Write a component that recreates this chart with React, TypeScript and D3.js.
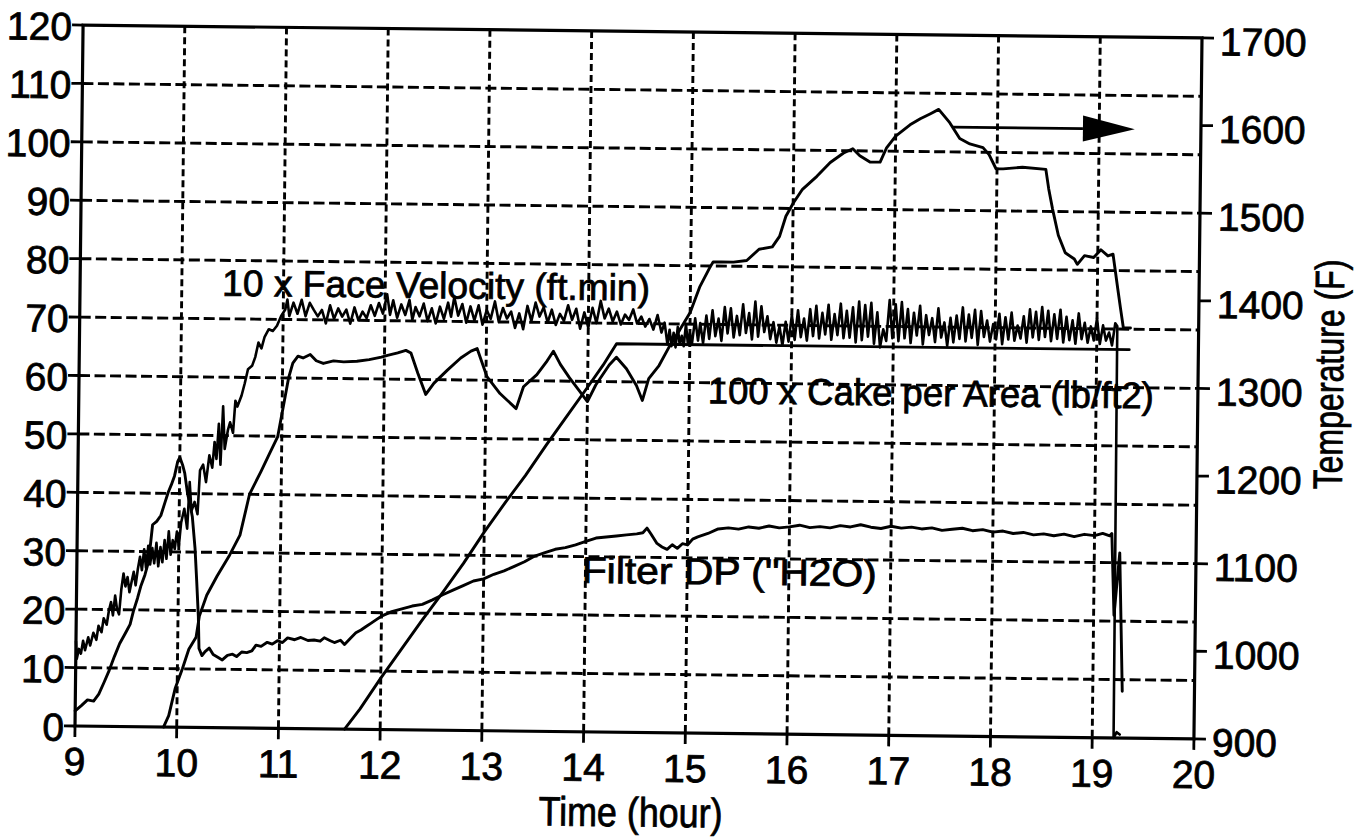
import React from 'react';
import * as d3 from 'd3';

// ---------- data ----------
const xTickValues = [9, 10, 11, 12, 13, 14, 15, 16, 17, 18, 19, 20];
const leftTickValues = [0, 10, 20, 30, 40, 50, 60, 70, 80, 90, 100, 110, 120];
const rightTickValues = [900, 1000, 1100, 1200, 1300, 1400, 1500, 1600, 1700];

const xAxisTitle = 'Time (hour)';
const rightAxisTitle = 'Temperature (F)';
const velocityLabel = '10 x Face Velocity (ft.min)';
const cakeLabel = '100 x Cake per Area (lb/ft2)';
const filterLabel = 'Filter DP ("H2O)';

// 10 x Face Velocity (left axis)
const faceVelocity: [number, number][] = [
  [9.0, 14.5], [9.01, 11.5], [9.03, 13.2], [9.05, 12.4], [9.07, 14.6], [9.09, 13.0], [9.12, 15.2], [9.14, 13.8],
  [9.17, 16.0], [9.2, 14.8], [9.22, 17.2], [9.25, 16.1], [9.27, 18.5], [9.3, 17.4], [9.32, 19.8], [9.34, 21.3],
  [9.36, 19.0], [9.38, 22.4], [9.4, 20.1], [9.42, 19.2], [9.44, 23.5], [9.46, 26.2], [9.48, 24.0], [9.5, 25.6],
  [9.52, 23.0], [9.54, 24.8], [9.56, 26.5], [9.58, 24.2], [9.6, 27.0], [9.62, 29.1], [9.64, 26.8], [9.66, 30.4],
  [9.68, 27.2], [9.7, 31.0], [9.72, 27.8], [9.74, 30.6], [9.76, 28.0], [9.78, 31.5], [9.8, 27.5], [9.82, 30.8],
  [9.84, 28.2], [9.86, 32.0], [9.88, 28.8], [9.9, 33.5], [9.92, 29.5], [9.94, 32.0], [9.96, 30.5], [9.98, 33.5],
  [10.0, 31.0], [10.02, 35.0], [10.05, 37.4], [10.08, 34.0], [10.1, 42.0], [10.12, 37.0], [10.15, 38.6], [10.18, 36.5],
  [10.2, 44.0], [10.23, 45.0], [10.26, 42.0], [10.29, 46.6], [10.32, 44.5], [10.34, 48.9], [10.36, 46.0], [10.38, 52.0],
  [10.4, 45.0], [10.42, 55.0], [10.44, 47.7], [10.47, 51.0], [10.49, 52.3], [10.52, 50.5], [10.54, 56.0], [10.56, 55.0],
  [10.6, 56.9], [10.63, 59.0], [10.66, 61.4], [10.7, 62.0], [10.73, 63.5], [10.76, 66.0], [10.79, 65.0], [10.82, 67.0],
  [10.86, 68.3], [10.9, 68.0], [10.94, 68.9], [10.98, 70.6], [11.02, 71.7], [11.04, 73.4], [11.06, 70.6], [11.1, 72.9],
  [11.14, 71.0], [11.18, 73.4], [11.22, 70.6], [11.26, 72.9], [11.3, 71.7], [11.34, 70.6], [11.38, 71.7], [11.42, 69.4],
  [11.46, 72.5], [11.5, 70.2], [11.54, 72.0], [11.58, 70.6], [11.62, 71.8], [11.66, 69.4], [11.7, 72.2], [11.74, 70.0],
  [11.78, 71.5], [11.82, 70.4], [11.86, 72.6], [11.9, 70.8], [11.94, 73.0], [11.98, 71.2], [12.02, 74.5], [12.05, 71.0],
  [12.08, 73.5], [12.12, 70.5], [12.16, 72.8], [12.2, 71.0], [12.24, 73.6], [12.27, 70.2], [12.3, 72.4], [12.34, 70.8],
  [12.38, 73.0], [12.42, 70.0], [12.46, 72.2], [12.5, 69.6], [12.54, 72.5], [12.58, 70.4], [12.62, 73.2], [12.65, 70.8],
  [12.68, 74.2], [12.72, 71.0], [12.76, 73.0], [12.8, 69.8], [12.84, 72.6], [12.88, 70.2], [12.92, 72.8], [12.96, 69.5],
  [13.0, 72.0], [13.04, 70.5], [13.08, 73.5], [13.12, 70.0], [13.16, 72.4], [13.2, 70.6], [13.24, 71.8], [13.28, 69.0],
  [13.32, 71.5], [13.36, 68.8], [13.4, 72.8], [13.44, 70.2], [13.48, 73.4], [13.52, 71.0], [13.56, 72.6], [13.6, 70.0],
  [13.64, 72.2], [13.68, 69.6], [13.72, 71.5], [13.76, 70.3], [13.8, 73.0], [13.84, 70.5], [13.88, 72.4], [13.92, 69.0],
  [13.96, 71.8], [14.0, 69.2], [14.04, 72.6], [14.08, 70.0], [14.12, 73.8], [14.16, 70.8], [14.2, 72.5], [14.24, 70.3],
  [14.28, 72.0], [14.32, 69.8], [14.36, 71.5], [14.4, 70.6], [14.44, 72.4], [14.48, 70.0], [14.52, 71.2], [14.56, 69.5],
  [14.6, 70.8], [14.64, 69.0], [14.68, 71.5], [14.72, 68.5], [14.75, 70.2], [14.78, 66.5], [14.8, 69.0], [14.82, 66.2],
  [14.84, 68.5], [14.86, 66.0], [14.88, 69.5], [14.9, 66.5], [14.92, 68.0], [14.94, 66.2], [14.96, 70.0], [14.98, 66.8],
  [15.0, 68.5], [15.02, 66.5], [15.05, 71.0], [15.08, 67.2], [15.1, 70.2], [15.13, 66.8], [15.16, 71.5], [15.19, 67.5],
  [15.22, 72.4], [15.25, 68.0], [15.28, 71.0], [15.31, 67.2], [15.34, 73.0], [15.37, 68.5], [15.4, 72.8], [15.43, 67.8],
  [15.46, 71.5], [15.49, 68.2], [15.52, 73.5], [15.55, 68.6], [15.58, 72.0], [15.61, 67.5], [15.64, 74.0], [15.67, 68.0],
  [15.7, 73.2], [15.73, 68.8], [15.76, 71.5], [15.79, 67.6], [15.82, 70.5], [15.85, 67.0], [15.88, 69.8], [15.91, 66.5],
  [15.94, 70.6], [15.97, 67.2], [16.0, 71.8], [16.03, 67.5], [16.06, 72.6], [16.09, 68.0], [16.12, 71.2], [16.15, 67.4],
  [16.18, 72.8], [16.21, 68.2], [16.24, 73.4], [16.27, 67.8], [16.3, 72.2], [16.33, 68.5], [16.36, 73.6], [16.39, 67.6],
  [16.42, 72.0], [16.45, 68.4], [16.48, 73.8], [16.51, 67.9], [16.54, 72.6], [16.57, 68.0], [16.6, 73.2], [16.63, 67.2],
  [16.66, 74.2], [16.69, 67.6], [16.72, 73.6], [16.75, 68.2], [16.78, 74.0], [16.81, 67.0], [16.84, 72.4], [16.87, 66.4],
  [16.9, 69.5], [16.93, 67.5], [16.96, 74.5], [16.99, 68.0], [17.02, 73.8], [17.05, 67.5], [17.08, 74.2], [17.11, 68.0],
  [17.14, 73.0], [17.17, 67.2], [17.2, 72.4], [17.23, 68.5], [17.26, 73.6], [17.29, 67.0], [17.32, 72.0], [17.35, 68.6],
  [17.38, 71.5], [17.41, 67.4], [17.44, 73.2], [17.47, 68.2], [17.5, 70.8], [17.53, 66.8], [17.56, 71.6], [17.59, 67.4],
  [17.62, 72.0], [17.65, 68.0], [17.68, 73.4], [17.71, 67.6], [17.74, 72.2], [17.77, 68.2], [17.8, 73.0], [17.83, 67.0],
  [17.86, 72.8], [17.89, 68.4], [17.92, 71.2], [17.95, 67.6], [17.98, 70.6], [18.01, 68.0], [18.04, 72.4], [18.07, 67.2],
  [18.1, 71.8], [18.13, 68.0], [18.16, 72.6], [18.19, 67.8], [18.22, 70.4], [18.25, 68.2], [18.28, 72.0], [18.31, 67.5],
  [18.34, 73.2], [18.37, 68.4], [18.4, 72.8], [18.43, 68.0], [18.46, 73.6], [18.49, 68.5], [18.52, 73.0], [18.55, 67.8],
  [18.58, 72.4], [18.61, 68.2], [18.64, 73.2], [18.67, 67.6], [18.7, 72.0], [18.73, 68.0], [18.76, 71.4], [18.79, 67.4],
  [18.82, 72.6], [18.85, 68.2], [18.88, 71.0], [18.91, 67.6], [18.94, 70.4], [18.97, 68.0], [19.0, 71.8], [19.03, 67.4],
  [19.06, 70.6], [19.09, 68.0], [19.12, 69.4], [19.15, 67.2], [19.18, 71.0], [19.2, 70.5], [19.21, 0], [19.24, 1.0],
  [19.27, 0.6],
];

// Filter DP ("H2O) (left axis)
const filterDP: [number, number][] = [
  [9.0, 2.6], [9.06, 3.5], [9.12, 4.5], [9.18, 4.3], [9.23, 5.5], [9.28, 7.5], [9.33, 9.6], [9.38, 12.0],
  [9.43, 14.2], [9.47, 15.5], [9.5, 16.5], [9.53, 17.5], [9.56, 19.7], [9.6, 22.0], [9.63, 24.0], [9.67, 26.0],
  [9.7, 28.0], [9.72, 31.0], [9.74, 34.6], [9.78, 35.2], [9.82, 36.2], [9.86, 38.5], [9.89, 40.2], [9.92, 41.5],
  [9.95, 43.0], [9.98, 45.5], [10.0, 46.2], [10.03, 44.8], [10.05, 43.5], [10.08, 40.0], [10.11, 37.8], [10.13, 36.0],
  [10.16, 30.6], [10.18, 25.0], [10.2, 19.0], [10.21, 13.5], [10.24, 12.3], [10.27, 13.0], [10.31, 13.6], [10.35, 12.5],
  [10.4, 12.0], [10.44, 11.6], [10.49, 12.4], [10.54, 12.6], [10.58, 12.2], [10.63, 13.0], [10.68, 12.9], [10.73, 13.2],
  [10.77, 14.2], [10.82, 14.0], [10.88, 14.7], [10.93, 14.4], [10.98, 15.0], [11.03, 14.7], [11.08, 15.5], [11.15, 15.2],
  [11.21, 15.6], [11.28, 15.1], [11.34, 15.2], [11.4, 15.0], [11.44, 15.6], [11.5, 15.1], [11.54, 14.8], [11.6, 15.2],
  [11.64, 14.5], [11.7, 15.6], [11.75, 16.5], [11.8, 17.0], [11.85, 17.6], [11.9, 18.2], [11.95, 18.8], [12.0, 19.4],
  [12.05, 19.8], [12.1, 20.2], [12.2, 20.7], [12.3, 21.2], [12.4, 21.5], [12.5, 22.3], [12.6, 23.2], [12.7, 24.0],
  [12.8, 24.8], [12.9, 25.6], [13.0, 26.0], [13.1, 26.8], [13.2, 27.4], [13.3, 28.2], [13.4, 29.0], [13.5, 30.0],
  [13.6, 30.6], [13.7, 31.2], [13.8, 31.5], [13.9, 32.0], [14.0, 32.6], [14.1, 33.2], [14.2, 33.4], [14.3, 33.6],
  [14.4, 33.8], [14.5, 34.0], [14.56, 34.2], [14.6, 35.0], [14.64, 34.0], [14.7, 32.4], [14.75, 31.8], [14.8, 31.4],
  [14.85, 32.2], [14.9, 31.6], [14.95, 32.4], [15.0, 32.2], [15.05, 33.2], [15.1, 33.6], [15.2, 34.2], [15.3, 35.0],
  [15.4, 35.2], [15.5, 35.0], [15.6, 35.4], [15.7, 35.2], [15.8, 35.6], [15.9, 35.3], [16.0, 35.5], [16.1, 35.8],
  [16.2, 35.4], [16.3, 35.6], [16.4, 35.4], [16.5, 35.8], [16.6, 35.6], [16.7, 36.0], [16.8, 35.6], [16.9, 35.4],
  [17.0, 35.8], [17.1, 35.5], [17.2, 35.7], [17.3, 35.4], [17.4, 35.6], [17.5, 35.2], [17.6, 35.4], [17.7, 35.6],
  [17.8, 35.2], [17.9, 35.4], [18.0, 35.0], [18.1, 35.2], [18.2, 34.8], [18.3, 35.0], [18.4, 34.6], [18.5, 34.8],
  [18.6, 34.5], [18.7, 34.8], [18.8, 34.4], [18.9, 34.8], [19.0, 34.6], [19.08, 35.0], [19.15, 34.6], [19.17, 35.0],
  [19.2, 21.0], [19.25, 31.7], [19.29, 8.0],
];

// 100 x Cake per Area (left axis)
const cakePerArea: [number, number][] = [
  [11.65, 0], [11.8, 3.5], [12.0, 8.8], [12.2, 13.8], [12.4, 18.8], [12.6, 23.6], [12.8, 28.6], [13.0, 34.0],
  [13.2, 39.0], [13.4, 43.8], [13.6, 49.0], [13.8, 54.0], [14.0, 59.0], [14.15, 62.8], [14.28, 66.5], [19.32, 66.5],
];

// Temperature (F) (right axis)
const temperature: [number, number][] = [
  [9.87, 900], [9.92, 913], [9.98, 944], [10.05, 967], [10.11, 989], [10.18, 1003], [10.21, 1027], [10.28, 1051],
  [10.38, 1073], [10.5, 1097], [10.6, 1120], [10.69, 1167], [10.8, 1193], [10.88, 1213], [10.96, 1233], [11.02, 1273],
  [11.06, 1300], [11.1, 1317], [11.15, 1325], [11.2, 1323], [11.27, 1327], [11.33, 1320], [11.4, 1317], [11.5, 1320],
  [11.6, 1319], [11.73, 1320], [11.85, 1322], [11.97, 1325], [12.03, 1327], [12.13, 1330], [12.21, 1333], [12.26, 1330],
  [12.33, 1307], [12.41, 1283], [12.49, 1296], [12.62, 1311], [12.75, 1325], [12.85, 1333], [12.91, 1336], [13.01, 1304],
  [13.14, 1285], [13.3, 1268], [13.37, 1293], [13.5, 1307], [13.6, 1323], [13.66, 1334], [13.73, 1319], [13.82, 1304],
  [13.92, 1289], [14.0, 1277], [14.08, 1296], [14.21, 1319], [14.28, 1328], [14.38, 1315], [14.48, 1296], [14.54, 1279],
  [14.6, 1304], [14.7, 1319], [14.8, 1341], [14.9, 1360], [15.0, 1380], [15.09, 1409], [15.19, 1432], [15.22, 1438],
  [15.3, 1438], [15.42, 1438], [15.55, 1440], [15.67, 1453], [15.8, 1456], [15.87, 1468], [15.93, 1491], [16.0, 1506],
  [16.09, 1522], [16.23, 1537], [16.36, 1553], [16.49, 1564], [16.58, 1569], [16.65, 1561], [16.75, 1554], [16.85, 1554],
  [16.91, 1570], [17.0, 1584], [17.14, 1597], [17.24, 1604], [17.34, 1610], [17.42, 1615], [17.53, 1600], [17.63, 1582],
  [17.73, 1576], [17.86, 1572], [17.92, 1564], [17.99, 1548], [18.06, 1548], [18.25, 1550], [18.48, 1548], [18.51, 1526],
  [18.55, 1503], [18.61, 1473], [18.68, 1453], [18.77, 1446], [18.8, 1440], [18.87, 1450], [18.96, 1448], [19.03, 1457],
  [19.1, 1450], [19.15, 1452], [19.2, 1413], [19.23, 1390], [19.26, 1368], [19.33, 1368],
];

// arrow pointing to the right-hand axis (temperature units)
const arrowLevel = 1595;
const arrowStart = 17.56;
const arrowHeadBase = 18.84;
const arrowTip = 19.35;

// ---------- component ----------
const FONT = "'Liberation Sans', Arial, Helvetica, sans-serif";

export default function App() {
  const left = 75, right = 1194, top = 25, bottom = 726;
  const x = d3.scaleLinear().domain([9, 20]).range([left, right]);
  const yL = d3.scaleLinear().domain([0, 120]).range([bottom, top]);
  const yR = d3.scaleLinear().domain([900, 1700]).range([bottom, top]);

  const lineL = d3.line<[number, number]>().x(d => x(d[0])).y(d => yL(d[1]));
  const lineR = d3.line<[number, number]>().x(d => x(d[0])).y(d => yR(d[1]));

  const lineStyle = {
    fill: 'none', stroke: '#000', strokeWidth: 2.9,
    strokeLinejoin: 'round' as const, strokeLinecap: 'round' as const,
  };
  const textStyle = { fill: '#000', stroke: '#000', strokeWidth: 0.8 };

  const ay = yR(arrowLevel);
  const head = 13;

  return (
    <svg width={1368} height={838} style={{ position: 'absolute', left: 0, top: 0, background: '#fff' }}
      fontFamily={FONT}>
      <rect x={0} y={0} width={1368} height={838} fill="#fff" />
      <g transform={`rotate(0.66 ${left} ${bottom})`}>
        {/* gridlines */}
        {leftTickValues.filter(v => v > 0 && v < 120).map(v => (
          <line key={'hg' + v} x1={left} x2={right} y1={yL(v)} y2={yL(v)}
            stroke="#000" strokeWidth={2.9} strokeDasharray="11 4.5" />
        ))}
        {xTickValues.filter(v => v > 9 && v < 20).map(v => (
          <line key={'vg' + v} x1={x(v)} x2={x(v)} y1={top} y2={bottom}
            stroke="#000" strokeWidth={2.9} strokeDasharray="7 4" />
        ))}

        {/* data lines */}
        <path d={lineL(filterDP) || ''} {...lineStyle} />
        <path d={lineL(cakePerArea) || ''} {...lineStyle} />
        <path d={lineR(temperature) || ''} {...lineStyle} />
        <path d={lineL(faceVelocity) || ''} {...lineStyle} strokeWidth={2.6} />

        {/* arrow */}
        <line x1={x(arrowStart)} x2={x(arrowHeadBase)} y1={ay} y2={ay} stroke="#000" strokeWidth={2.8} />
        <path d={`M${x(arrowHeadBase)},${ay - head}L${x(arrowTip)},${ay}L${x(arrowHeadBase)},${ay + head}Z`} fill="#000" />

        {/* frame */}
        <rect x={left} y={top} width={right - left} height={bottom - top} fill="none" stroke="#000" strokeWidth={3.2} />

        {/* left axis ticks */}
        {leftTickValues.map(v => (
          <g key={'lt' + v}>
            <line x1={left - 11} x2={left} y1={yL(v)} y2={yL(v)} stroke="#000" strokeWidth={2.8} />
            <text x={left - 11} y={yL(v) + 15} textAnchor="end" fontSize={39} {...textStyle}>{v}</text>
          </g>
        ))}

        {/* right axis ticks */}
        {rightTickValues.map(v => (
          <g key={'rt' + v}>
            <line x1={right} x2={right + 12} y1={yR(v)} y2={yR(v)} stroke="#000" strokeWidth={2.8} />
            <text x={right + 18} y={yR(v) + 17} textAnchor="start" fontSize={39} {...textStyle}>{v}</text>
          </g>
        ))}

        {/* bottom axis ticks */}
        {xTickValues.map(v => (
          <g key={'xt' + v}>
            <line x1={x(v)} x2={x(v)} y1={bottom} y2={bottom + 11} stroke="#000" strokeWidth={2.8} />
            <text x={x(v)} y={bottom + 49} textAnchor="middle" fontSize={39} {...textStyle}>{v}</text>
          </g>
        ))}

        {/* axis titles */}
        <text x={(left + right) / 2 - 3} y={820} textAnchor="middle" fontSize={41} {...textStyle}
          textLength={184} lengthAdjust="spacingAndGlyphs">{xAxisTitle}</text>
        <text transform={`translate(1339, 360) rotate(-90)`} textAnchor="middle" fontSize={41} {...textStyle}
          textLength={230} lengthAdjust="spacingAndGlyphs">{rightAxisTitle}</text>

        {/* series annotations */}
        <text x={217} y={294} fontSize={37} {...textStyle} textLength={428} lengthAdjust="spacingAndGlyphs">{velocityLabel}</text>
        <text x={704} y={396} fontSize={37} {...textStyle} textLength={446} lengthAdjust="spacingAndGlyphs">{cakeLabel}</text>
        <text x={580} y={577} fontSize={37} {...textStyle} textLength={295} lengthAdjust="spacingAndGlyphs">{filterLabel}</text>
      </g>
    </svg>
  );
}
